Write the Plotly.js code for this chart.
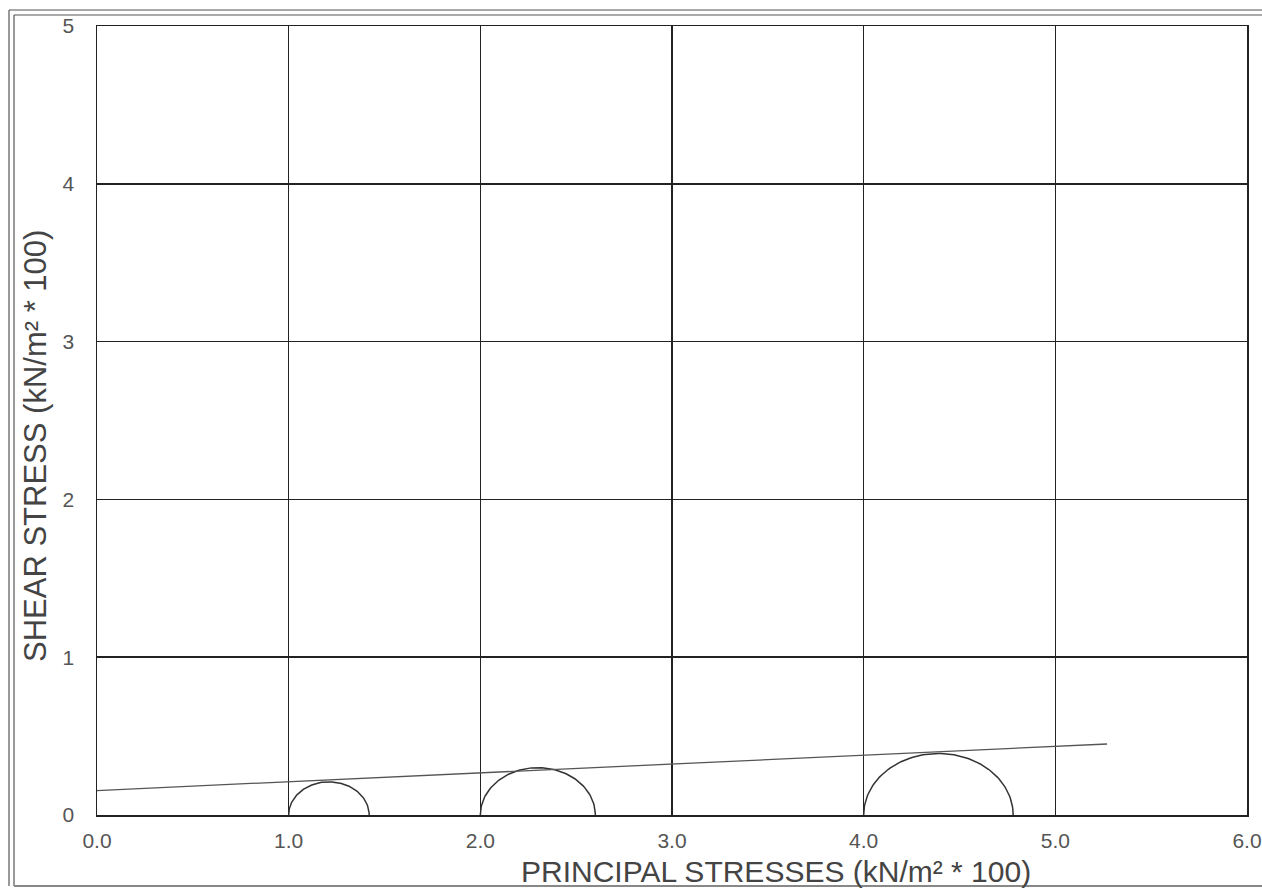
<!DOCTYPE html>
<html>
<head>
<meta charset="utf-8">
<script src="https://cdn.plot.ly/plotly-3.0.1.min.js"></script>
<style>
  html, body { margin: 0; padding: 0; background: #ffffff; }
  #chart { width: 1262px; height: 891px; }
</style>
</head>
<body>
<div id="chart"></div>
<script>
// Mohr circles: minor and major principal stresses (kN/m² * 100)
const sigma3 = [1.0, 2.0, 4.0];
const sigma1 = [1.42, 2.60, 4.78];
// Failure envelope end points
const envelopeX = [0.0, 5.27];
const envelopeY = [0.155, 0.45];
// Axis ticks
const xTicks = [0, 1, 2, 3, 4, 5, 6];
const xTickLabels = ["0.0", "1.0", "2.0", "3.0", "4.0", "5.0", "6.0"];
const yTicks = [0, 1, 2, 3, 4, 5];
const yTickLabels = ["0", "1", "2", "3", "4", "5"];

const FONT = "'Liberation Sans', Arial, Helvetica, sans-serif";

const traces = [];
for (let i = 0; i < sigma3.length; i++) {
  const c = (sigma1[i] + sigma3[i]) / 2;
  const r = (sigma1[i] - sigma3[i]) / 2;
  const xs = [], ys = [];
  for (let k = 0; k <= 90; k++) {
    const t = Math.PI - Math.PI * k / 90;
    xs.push(c + r * Math.cos(t));
    ys.push(r * Math.sin(t));
  }
  traces.push({
    type: "scatter", mode: "lines", x: xs, y: ys,
    line: { color: "#333333", width: 1.5 },
    hoverinfo: "skip", showlegend: false
  });
}
traces.push({
  type: "scatter", mode: "lines", x: envelopeX, y: envelopeY,
  line: { color: "#555555", width: 1.3 },
  hoverinfo: "skip", showlegend: false
});

const L = 97, R = 15, T = 26, B = 76, W = 1262, H = 891;
const pw = W - L - R, ph = H - T - B;
const px = (p) => (p - L) / pw;
const py = (p) => (H - B - p) / ph;

const borderColor = "#555555";
const shapes = [
  { type: "line", xref: "paper", yref: "paper", x0: px(9), x1: px(9), y0: py(10), y1: py(886), line: { color: borderColor, width: 1.2 } },
  { type: "line", xref: "paper", yref: "paper", x0: px(14), x1: px(14), y0: py(15), y1: py(886), line: { color: borderColor, width: 1.2 } },
  { type: "line", xref: "paper", yref: "paper", x0: px(9), x1: px(1262), y0: py(10), y1: py(10), line: { color: borderColor, width: 1.2 } },
  { type: "line", xref: "paper", yref: "paper", x0: px(14), x1: px(1262), y0: py(15), y1: py(15), line: { color: borderColor, width: 1.2 } },
  { type: "line", xref: "paper", yref: "paper", x0: px(14), x1: px(1262), y0: py(886), y1: py(886), line: { color: "#888888", width: 2 } }
];

const layout = {
  width: W, height: H,
  margin: { l: L, r: R, t: T, b: B, pad: 0 },
  paper_bgcolor: "#ffffff", plot_bgcolor: "#ffffff",
  font: { family: FONT, color: "#555555", size: 21 },
  xaxis: {
    range: [0, 6], tickvals: xTicks, ticktext: xTickLabels,
    showgrid: true, gridcolor: "#222222", gridwidth: 1.5,
    zeroline: false, showline: true, linecolor: "#222222", linewidth: 1.5, mirror: true,
    ticks: "", ticklabelstandoff: 6,
    tickfont: { family: FONT, size: 21, color: "#555555" }
  },
  yaxis: {
    range: [0, 5], tickvals: yTicks, ticktext: yTickLabels,
    showgrid: true, gridcolor: "#222222", gridwidth: 1.5,
    zeroline: false, showline: true, linecolor: "#222222", linewidth: 1.5, mirror: true,
    ticks: "", ticklabelstandoff: 17,
    tickfont: { family: FONT, size: 21, color: "#555555" }
  },
  shapes: shapes,
  annotations: [
    { text: "PRINCIPAL STRESSES (kN/m² * 100)", xref: "paper", yref: "paper",
      x: px(776), y: py(871), xanchor: "center", yanchor: "middle", showarrow: false,
      font: { family: FONT, size: 30, color: "#444444" } },
    { text: "SHEAR STRESS (kN/m² * 100)", xref: "paper", yref: "paper",
      x: px(35), y: py(446), xanchor: "center", yanchor: "middle", showarrow: false, textangle: -90,
      font: { family: FONT, size: 31, color: "#444444" } }
  ]
};

Plotly.newPlot("chart", traces, layout, { displayModeBar: false, staticPlot: true });
</script>
</body>
</html>
